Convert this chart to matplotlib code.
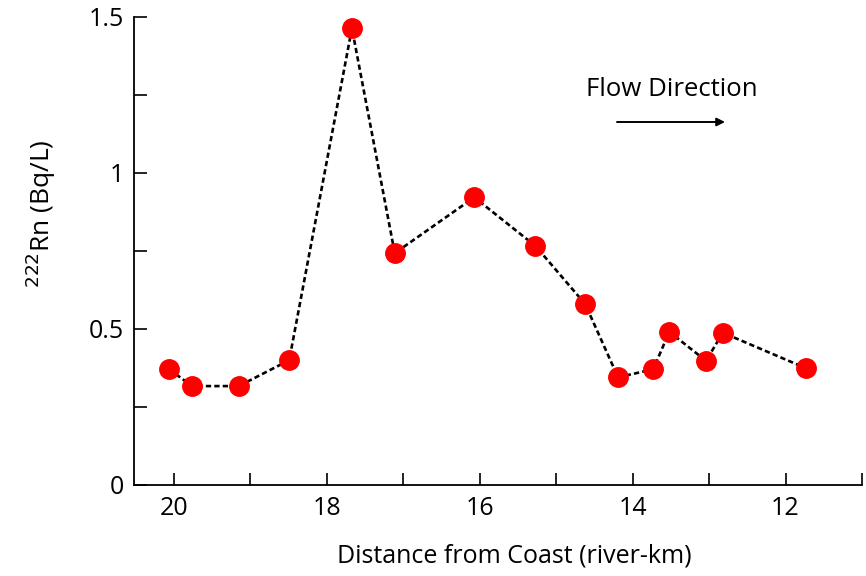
import numpy as np
import matplotlib.pyplot as plt

# river-km from coast and 222Rn activity (Bq/L)
distance_km = [20.06, 19.76, 19.15, 18.49, 17.67, 17.11, 16.07, 15.27,
               14.62, 14.19, 13.73, 13.52, 13.04, 12.82, 11.73]
radon_bq_l = [0.371, 0.317, 0.317, 0.400, 1.464, 0.743, 0.922, 0.766,
              0.580, 0.345, 0.371, 0.491, 0.398, 0.488, 0.374]

x_major = [20, 18, 16, 14, 12]
x_minor = [19, 17, 15, 13, 11]
y_major = [0, 0.5, 1, 1.5]
y_labels = ["0", "0.5", "1", "1.5"]
y_minor = [0.25, 0.75, 1.25]

plt.rcParams['font.family'] = ['Open Sans', 'DejaVu Sans']

fig = plt.figure(figsize=(8.66, 5.76), dpi=100)
ax = fig.add_axes([0.1547, 0.158, 0.8407, 0.8125])

ax.plot(distance_km, radon_bq_l, color='black', linestyle=(0, (2.0, 1.2)),
        linewidth=1.9, marker='o', markersize=14, markerfacecolor='#ff0000',
        markeredgecolor='#ff0000', zorder=3)

ax.set_xlim(20.52, 11.0)
ax.set_ylim(0, 1.5)

ax.spines['top'].set_visible(False)
ax.spines['right'].set_visible(False)
for s in ['left', 'bottom']:
    ax.spines[s].set_linewidth(1.3)

ax.set_xticks(x_major)
ax.set_xticks(x_minor, minor=True)
ax.set_yticks(y_major, labels=y_labels)
ax.set_yticks(y_minor, minor=True)
ax.tick_params(which='both', direction='in', length=9, width=1.2, labelsize=18)
ax.tick_params(axis='x', which='both', pad=8)
ax.tick_params(axis='y', which='both', pad=7)

ax.set_xlabel("Distance from Coast (river-km)", fontsize=18)
ax.xaxis.set_label_coords(0.523, -0.152)
ax.xaxis.label.set_va('center')

# y label sits a bit above the axis centre in the original
fig.text(41 / 866, 1 - 214 / 576, "$^{222}$Rn (Bq/L)", fontsize=19,
         rotation=90, ha='center', va='center')

ax.text(672, 576 - 90, "Flow Direction", transform=None, fontsize=18.5,
        ha='center', va='center')
ax.annotate("", xy=(725, 576 - 122), xytext=(617, 576 - 122),
            xycoords='figure pixels', textcoords='figure pixels',
            arrowprops=dict(arrowstyle='-|>', color='black', lw=1.4,
                            mutation_scale=12, shrinkA=0, shrinkB=0))

fig.savefig('out.png', dpi=100)
